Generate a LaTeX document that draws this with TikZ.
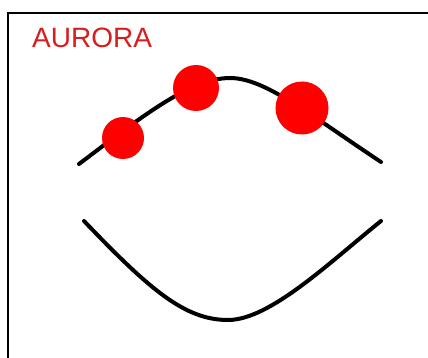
\documentclass[tikz,border=0pt]{standalone}
\usepackage{fontspec}
\setmainfont{Liberation Sans}
\definecolor{aured}{RGB}{215,30,30}
\definecolor{dotred}{RGB}{255,0,0}
\begin{document}
\begin{tikzpicture}[x=1pt,y=-1pt,
  curve/.style={line width=4pt,line cap=round,black},
  dot/.style={fill=dotred,draw=none}]
\useasboundingbox (0,0) rectangle (428,358);
\fill[white] (0,0) rectangle (428,358);
% frame (top and left edges)
\draw[line width=2.6pt] (8,358) -- (8,13) -- (428,13);
% title
\node[anchor=base west,inner sep=0pt,text=aured,font=\fontsize{28}{30}\selectfont] (title) at (32,48) {AURORA};
% upper arch
\draw[curve] (79,164) .. controls (140,118) and (190,78) .. (230,78)
  .. controls (265,78) and (310,115) .. (381,162);
% lower curve
\draw[curve] (84,221) .. controls (150,290) and (185,320) .. (228,320)
  .. controls (270,320) and (330,262) .. (381,221);
% dots
\fill[dot] (123,138) circle (21);
\fill[dot] (196,88) circle (23);
\fill[dot] (302,108) circle (26.5);
\end{tikzpicture}
\end{document}
